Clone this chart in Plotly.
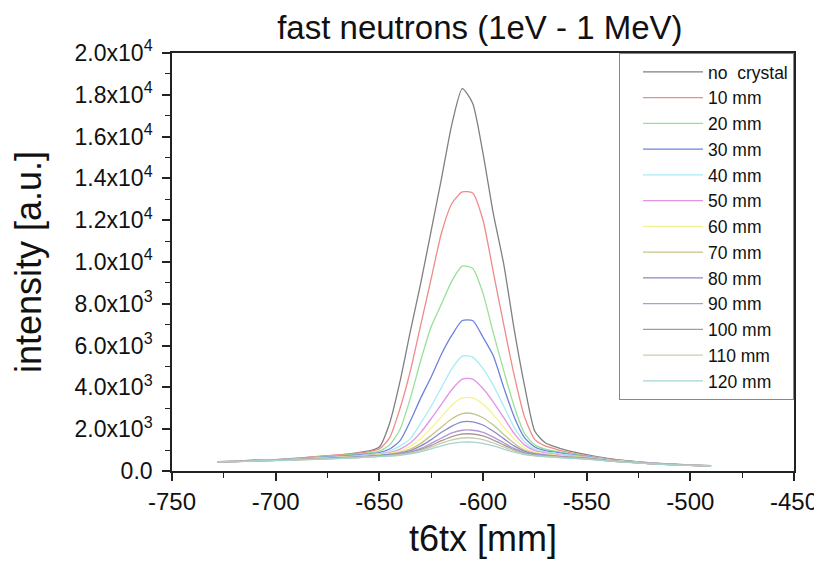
import plotly.graph_objects as go

x_mm = [-728, -720, -710, -700, -690, -680, -670, -660, -655,
        -650, -645, -640, -635, -630, -625, -620, -615, -610, -605,
        -600, -595, -590, -585, -580, -575, -570, -565, -560,
        -550, -540, -530, -520, -510, -500, -490]

no_crystal = [450, 470, 520, 545, 600, 690, 760, 880, 960,
              1150, 2300, 4300, 6700, 9000, 11500, 14000, 16600, 18300, 17600,
              15200, 12300, 9900, 6800, 4100, 1900, 1350, 1150, 1000,
              780, 600, 480, 400, 340, 290, 250]
mm10 = [450, 465, 515, 540, 610, 700, 770, 860, 930,
        1050, 1600, 3000, 4800, 7000, 9200, 11400, 12800, 13350, 13300,
        12000, 9500, 7000, 4600, 2600, 1500, 1200, 1050, 920,
        740, 580, 470, 390, 330, 285, 250]
mm20 = [440, 470, 500, 535, 590, 660, 730, 810, 870,
        950, 1250, 2000, 3500, 5300, 6900, 8000, 9100, 9800, 9700,
        8500, 6600, 4800, 3100, 1800, 1250, 1050, 950, 860,
        720, 560, 460, 385, 325, 280, 245]
mm30 = [445, 460, 505, 530, 580, 640, 700, 770, 820,
        880, 1050, 1450, 2400, 3500, 4500, 5600, 6500, 7200, 7200,
        6400, 5500, 4000, 2600, 1600, 1150, 980, 900, 820,
        700, 545, 450, 380, 320, 280, 245]
mm40 = [440, 465, 500, 525, 570, 625, 680, 740, 790,
        830, 950, 1200, 1550, 2300, 3100, 4000, 4900, 5500, 5450,
        4900, 4100, 3100, 2100, 1400, 1050, 920, 850, 780,
        680, 535, 445, 375, 320, 275, 245]
mm50 = [445, 460, 495, 520, 560, 610, 660, 720, 760,
        800, 880, 1050, 1350, 1850, 2500, 3200, 3900, 4400, 4400,
        3950, 3300, 2550, 1800, 1250, 980, 870, 800, 740,
        660, 525, 440, 370, 315, 275, 245]
mm60 = [440, 455, 495, 515, 555, 600, 650, 700, 740,
        780, 840, 960, 1180, 1550, 2050, 2600, 3150, 3500, 3500,
        3200, 2700, 2100, 1550, 1100, 900, 820, 760, 710,
        640, 515, 435, 365, 315, 275, 240]
mm70 = [440, 455, 490, 515, 550, 590, 635, 690, 725,
        760, 810, 900, 1050, 1320, 1700, 2100, 2500, 2750, 2750,
        2550, 2200, 1750, 1330, 1000, 850, 780, 730, 690,
        625, 510, 430, 365, 310, 270, 240]
mm80 = [445, 450, 490, 510, 545, 585, 625, 675, 710,
        740, 790, 860, 980, 1200, 1500, 1850, 2150, 2350, 2350,
        2200, 1900, 1550, 1200, 940, 820, 760, 710, 670,
        610, 500, 425, 360, 310, 270, 240]
mm90 = [440, 455, 485, 510, 540, 575, 615, 665, 695,
        720, 760, 820, 920, 1080, 1320, 1580, 1820, 1950, 1950,
        1850, 1620, 1350, 1080, 880, 780, 730, 690, 650,
        600, 495, 420, 360, 305, 270, 240]
mm100 = [440, 450, 485, 505, 540, 570, 610, 655, 685,
         710, 750, 800, 890, 1030, 1230, 1450, 1650, 1770, 1770,
         1680, 1480, 1250, 1020, 850, 760, 710, 680, 640,
         590, 490, 420, 355, 305, 265, 240]
mm110 = [435, 450, 480, 505, 535, 565, 600, 645, 675,
         700, 730, 780, 860, 980, 1150, 1330, 1490, 1580, 1580,
         1500, 1340, 1150, 960, 820, 740, 700, 670, 630,
         580, 485, 415, 355, 305, 265, 240]
mm120 = [440, 450, 480, 500, 530, 560, 595, 635, 665,
         690, 710, 750, 820, 920, 1060, 1200, 1320, 1380, 1380,
         1320, 1200, 1050, 900, 790, 720, 680, 650, 620,
         570, 480, 410, 350, 300, 265, 240]

series_names = ["no  crystal", "10 mm", "20 mm", "30 mm", "40 mm", "50 mm", "60 mm",
                "70 mm", "80 mm", "90 mm", "100 mm", "110 mm", "120 mm"]
series_values = [no_crystal, mm10, mm20, mm30, mm40, mm50, mm60,
                 mm70, mm80, mm90, mm100, mm110, mm120]
series_colors = ["#808080", "#f08a8a", "#98e098", "#7080e0", "#a8ecf4", "#e094e4",
                 "#f7f290", "#c4c488", "#8a8ac8", "#b498d8", "#a89a9a", "#cccca4", "#a4d4d0"]

y_tickvals = [0, 2000, 4000, 6000, 8000, 10000, 12000, 14000, 16000, 18000, 20000]
y_ticktext = ["0.0", "2.0x10<sup>3</sup>", "4.0x10<sup>3</sup>", "6.0x10<sup>3</sup>",
              "8.0x10<sup>3</sup>", "1.0x10<sup>4</sup>", "1.2x10<sup>4</sup>",
              "1.4x10<sup>4</sup>", "1.6x10<sup>4</sup>", "1.8x10<sup>4</sup>",
              "2.0x10<sup>4</sup>"]
x_tickvals = [-750, -700, -650, -600, -550, -500, -450]
x_ticktext = ["-750", "-700", "-650", "-600", "-550", "-500", "-450"]

fig = go.Figure()
for name, vals, col in zip(series_names, series_values, series_colors):
    fig.add_trace(go.Scatter(x=x_mm, y=vals, mode="lines", name=name,
                             line=dict(color=col, width=1.3, shape="spline", smoothing=0.6)))

# page body has an 8px margin: figure is sized to fit the 822x567 window
font_family = "Liberation Sans, Arial, sans-serif"
fig.update_layout(
    width=814, height=559,
    margin=dict(l=164, r=28, t=45, b=96),
    paper_bgcolor="white", plot_bgcolor="white",
    font=dict(family=font_family, color="#111111"),
    title=dict(text="fast neutrons (1eV - 1 MeV)", x=0.495, xref="paper", xanchor="center",
               y=0.966, yanchor="middle", font=dict(size=33, family=font_family)),
    showlegend=True,
    legend=dict(x=1, y=1.0, xanchor="right", yanchor="top", bgcolor="white",
                bordercolor="#888888", borderwidth=1, font=dict(size=17.5),
                itemwidth=60, indentation=18, tracegroupgap=0),
)
fig.update_xaxes(range=[-750, -450], tickvals=x_tickvals, ticktext=x_ticktext,
                 automargin=False,
                 ticks="outside", ticklen=8,
                 tickwidth=1.5, tickcolor="#222", showline=True, linewidth=1.6,
                 linecolor="#222", mirror=True, showgrid=False, zeroline=False,
                 tickfont=dict(size=24),
                 minor=dict(ticks="outside", ticklen=5, tickwidth=1.2, dtick=25, tickcolor="#222"),
                 title=dict(text="t6tx [mm]", font=dict(size=36), standoff=12))
fig.update_yaxes(range=[0, 20000], tickvals=y_tickvals, ticktext=y_ticktext, ticks="outside",
                 automargin=False,
                 ticklen=8, tickwidth=1.5, tickcolor="#222", showline=True, linewidth=1.6,
                 linecolor="#222", mirror=True, showgrid=False, zeroline=False,
                 tickfont=dict(size=23), ticklabelstandoff=5,
                 minor=dict(ticks="outside", ticklen=5, tickwidth=1.2, dtick=1000, tickcolor="#222"),
                 title=dict(text="intensity [a.u.]", font=dict(size=36), standoff=22))

fig.write_html("out.html")
